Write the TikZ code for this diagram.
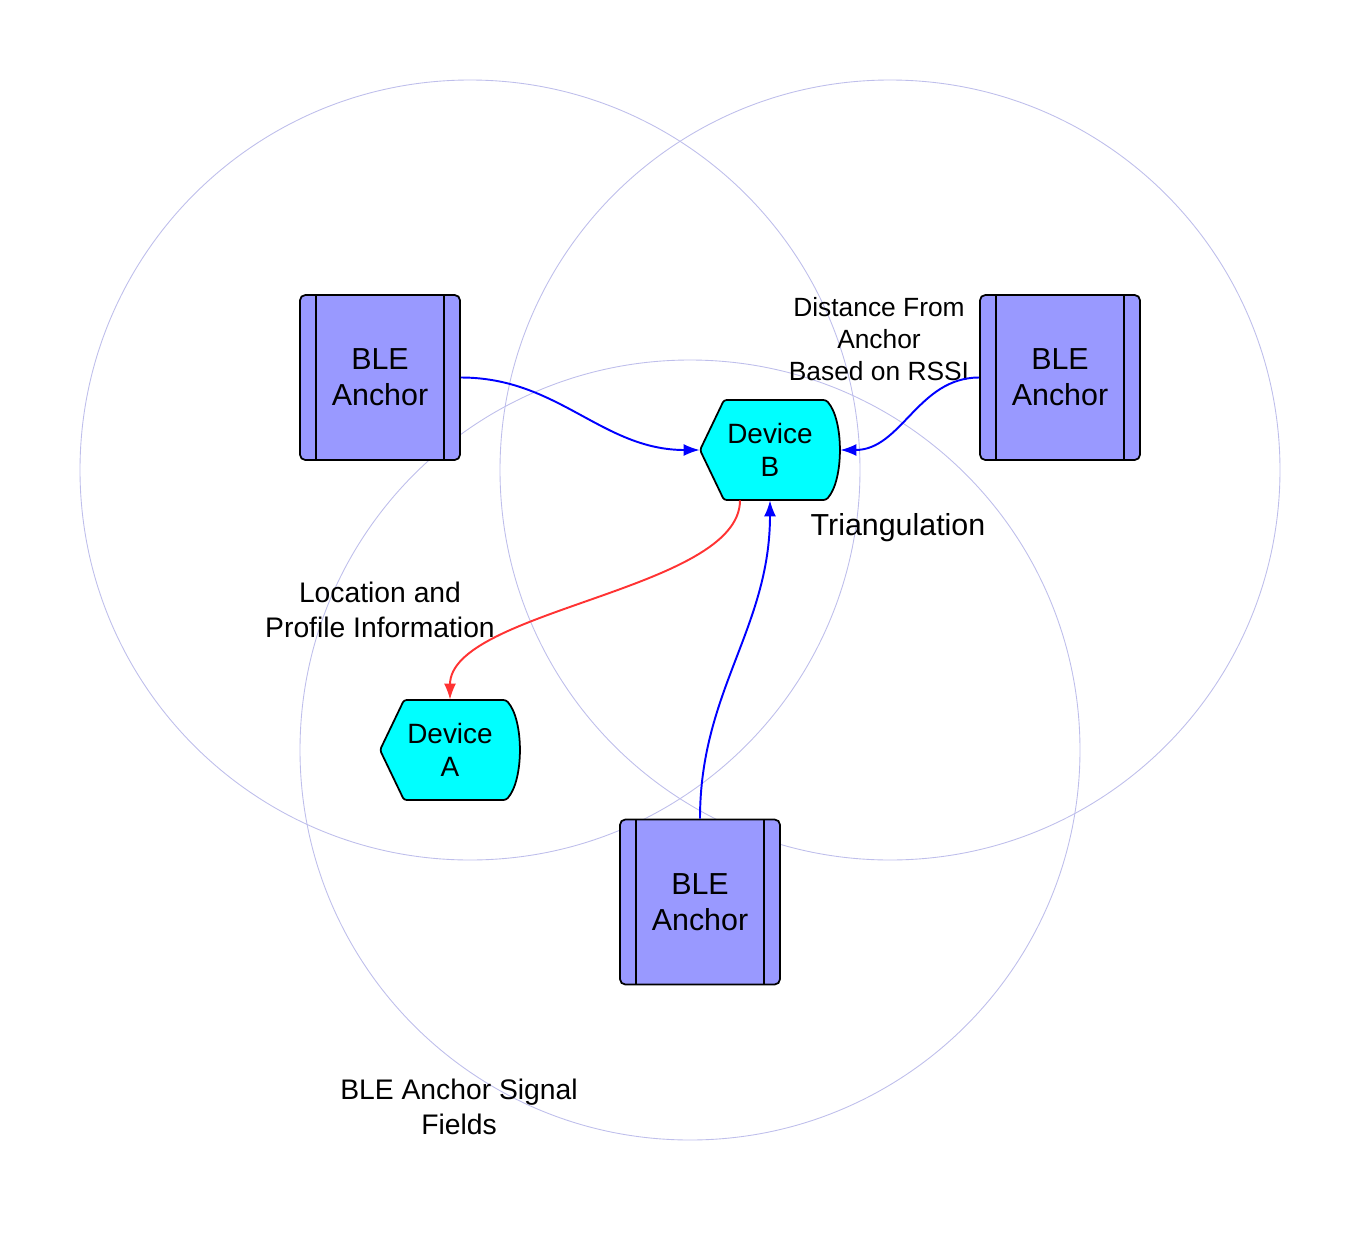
\documentclass[tikz,border=0pt]{standalone}
\usepackage{fontspec}
\setmainfont{Liberation Sans}
\usetikzlibrary{arrows.meta,backgrounds}

\definecolor{anchorblue}{RGB}{153,153,255}
\definecolor{devcyan}{RGB}{0,255,255}
\definecolor{fieldline}{RGB}{190,190,235}
\definecolor{linkblue}{RGB}{0,0,255}
\definecolor{linkred}{RGB}{255,51,51}

\begin{document}
\begin{tikzpicture}[x=0.02cm,y=0.02cm,
    field/.style={draw=fieldline,line width=0.5pt},
    bleanchor/.style={draw,line width=1pt,fill=anchorblue,rounded corners=3pt,
      minimum width=3.2cm,minimum height=3.3cm,inner sep=0pt,align=center,
      font=\fontsize{17.3}{20.4}\selectfont,
      path picture={
        \draw[line width=1pt] ([xshift=0.32cm]path picture bounding box.north west) -- ([xshift=0.32cm]path picture bounding box.south west);
        \draw[line width=1pt] ([xshift=-0.32cm]path picture bounding box.north east) -- ([xshift=-0.32cm]path picture bounding box.south east);}},
    devicebox/.style={minimum width=2.8cm,minimum height=2cm,inner sep=0pt,align=center,
      font=\fontsize{15.9}{18.7}\selectfont},
    devoutline/.style={draw,line width=1pt,fill=devcyan,rounded corners=1.5pt},
    lbl/.style={align=center,font=\fontsize{16.1}{19.5}\selectfont},
    link/.style={line width=1.1pt,-{Latex[length=0.32cm,width=0.24cm]}}]

    \useasboundingbox (0,0) rectangle (1360,-1258);

    % signal fields
    \draw[field] (470,-470) circle[radius=390];
    \draw[field] (890,-470) circle[radius=390];
    \draw[field] (690,-750) circle[radius=390];

    \node[bleanchor] (a1) at (380,-377.5) {BLE\\Anchor};
    \node[bleanchor] (a2) at (1060,-377.5) {BLE\\Anchor};
    \node[bleanchor] (a3) at (700,-902) {BLE\\Anchor};

    \node[devicebox] (dB) at (770,-450) {Device\\B};
    \node[devicebox] (dA) at (450,-750) {Device\\A};

    % display outlines under the device texts
    \begin{pgfonlayer}{background}
      \path[devoutline,shift={(dB.center)}] (-70,0) -- (-46,50) -- (56,50) .. controls (74,30) and (74,-30) .. (56,-50) -- (-46,-50) -- cycle;
      \path[devoutline,shift={(dA.center)}] (-70,0) -- (-46,50) -- (56,50) .. controls (74,30) and (74,-30) .. (56,-50) -- (-46,-50) -- cycle;
    \end{pgfonlayer}

    \node[lbl,font=\fontsize{15}{18.1}\selectfont] (distLbl) at (879,-339) {Distance From\\Anchor\\Based on RSSI};
    \node[lbl,font=\fontsize{17.3}{20}\selectfont] (triLbl) at (898,-528) {Triangulation};
    \node[lbl] (locLbl) at (380,-610) {Location and\\Profile Information};
    \node[lbl] (fieldLbl) at (459,-1107) {BLE Anchor Signal\\Fields};

    \path[link] (a1) edge[draw=linkblue,out=0,in=180] (dB);
    \path[link] (a2) edge[draw=linkblue,out=180,in=0] (dB);
    \path[link] (a3) edge[draw=linkblue,out=90,in=-90] (dB);
    \path[link] ([xshift=-0.6cm]dB.south) edge[draw=linkred,out=-90,in=90,looseness=0.65] (dA);
  \end{tikzpicture}
\end{document}
